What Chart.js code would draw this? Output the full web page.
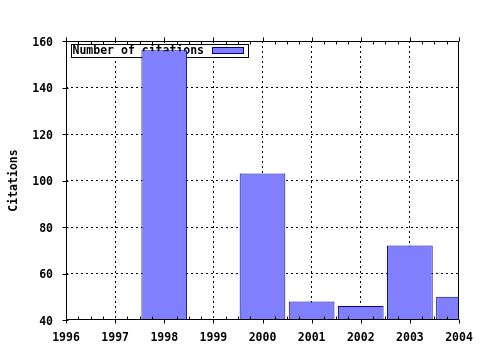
<!DOCTYPE html>
<html>
<head>
<meta charset="utf-8">
<script src="https://cdn.jsdelivr.net/npm/chart.js@4/dist/chart.umd.min.js"></script>
<style>
  html, body { margin: 0; padding: 0; background: #ffffff; }
  #wrap { width: 480px; height: 350px; }
</style>
</head>
<body>
<div id="wrap"><canvas id="c" width="480" height="350"></canvas></div>
<script>
const years = [1998, 2000, 2001, 2002, 2003, 2004];
const citations = [156, 103, 48, 46, 72, 50];
const xTickYears = [1996, 1997, 1998, 1999, 2000, 2001, 2002, 2003, 2004];
const yTickValues = [40, 60, 80, 100, 120, 140, 160];
const seriesLabel = 'Number of citations';
const yTitle = 'Citations';

const FONT = { family: '"DejaVu Sans Mono", monospace', size: 11.5, weight: 'bold' };
const FILL = '#8080ff';
const EDGE = '#000090';

const innerGrid = (ctx) => {
  const n = ctx.scale.ticks.length;
  return (ctx.index === 0 || ctx.index === n - 1) ? 'rgba(0,0,0,0)' : '#000000';
};

const legendBox = {
  id: 'legendBox',
  beforeDatasetsDraw(chart) {
    const ctx = chart.ctx;
    const a = chart.chartArea;
    ctx.save();
    const x = Math.round(a.left) + 5.5, y = Math.round(a.top) + 3.5, w = 177, h = 13;
    ctx.fillStyle = '#ffffff';
    ctx.fillRect(x, y, w, h);
    ctx.strokeStyle = '#000000';
    ctx.lineWidth = 1;
    ctx.strokeRect(x, y, w, h);
    ctx.fillStyle = '#000000';
    ctx.font = 'bold 11.5px "DejaVu Sans Mono", monospace';
    ctx.textBaseline = 'middle';
    ctx.fillText(chart.data.datasets[0].label, x + 1, y + h / 2 + 0.5);
    ctx.fillStyle = FILL;
    ctx.fillRect(x + 141, y + 3, 31, 6);
    ctx.strokeStyle = EDGE;
    ctx.strokeRect(x + 141, y + 3, 31, 6);
    ctx.restore();
  }
};

const frameTicks = {
  id: 'frameTicks',
  afterDraw(chart) {
    const ctx = chart.ctx;
    const a = chart.chartArea;
    const xs = chart.scales.x, ys = chart.scales.y;
    const L = Math.round(a.left) + 0.5, R = Math.round(a.right) - 0.5;
    const T = Math.round(a.top) + 0.5, B = Math.round(a.bottom) - 0.5;
    ctx.save();
    ctx.strokeStyle = '#000000';
    ctx.lineWidth = 1;
    ctx.beginPath();
    ctx.moveTo(L, T); ctx.lineTo(R, T); ctx.lineTo(R, B); ctx.lineTo(L, B); ctx.closePath();
    xs.ticks.forEach((t, i) => {
      const px = Math.round(xs.getPixelForValue(t.value)) + 0.5;
      ctx.moveTo(px, B); ctx.lineTo(px, B + 4);
      ctx.moveTo(px, T); ctx.lineTo(px, T - 4);
      if (i < xs.ticks.length - 1) {
        for (let q = 1; q < 4; q++) {
          const mx = Math.round(xs.getPixelForValue(t.value + q / 4)) + 0.5;
          ctx.moveTo(mx, B); ctx.lineTo(mx, B - 3);
          ctx.moveTo(mx, T); ctx.lineTo(mx, T + 3);
        }
      }
    });
    ys.ticks.forEach(t => {
      const py = Math.round(ys.getPixelForValue(t.value)) + 0.5;
      ctx.moveTo(L - 4, py); ctx.lineTo(L + 2, py);
    });
    ctx.stroke();
    ctx.restore();
  }
};

new Chart(document.getElementById('c'), {
  type: 'bar',
  data: {
    datasets: [{
      label: seriesLabel,
      data: years.map((y, i) => ({ x: y, y: citations[i] })),
      backgroundColor: FILL,
      borderColor: EDGE,
      borderWidth: 1,
      barPercentage: 0.93,
      categoryPercentage: 1.0,
      clip: 0
    }]
  },
  options: {
    responsive: false,
    animation: false,
    devicePixelRatio: 1,
    layout: { padding: { left: 0, top: 41, right: 21, bottom: 0 } },
    plugins: { legend: { display: false }, tooltip: { enabled: false } },
    scales: {
      x: {
        type: 'linear',
        offset: false,
        min: xTickYears[0],
        max: xTickYears[xTickYears.length - 1],
        afterBuildTicks: s => { s.ticks = xTickYears.map(v => ({ value: v })); },
        afterFit: s => { s.height = 30; s.paddingLeft = 0; s.paddingRight = 0; },
        grid: { offset: false, color: innerGrid, lineWidth: 1, drawTicks: false },
        border: { display: false, dash: [2, 3] },
        ticks: {
          color: '#000000',
          font: FONT,
          padding: 11,
          maxRotation: 0,
          autoSkip: false,
          callback: v => String(v)
        }
      },
      y: {
        type: 'linear',
        min: yTickValues[0],
        max: yTickValues[yTickValues.length - 1],
        afterBuildTicks: s => { s.ticks = yTickValues.map(v => ({ value: v })); },
        afterFit: s => { s.width = 66; s.paddingTop = 0; s.paddingBottom = 0; },
        grid: { color: innerGrid, lineWidth: 1, drawTicks: false },
        border: { display: false, dash: [2, 3] },
        ticks: { color: '#000000', font: FONT, padding: 13, labelOffset: 2, callback: v => String(v) },
        title: { display: true, text: yTitle, color: '#000000', font: FONT, padding: { top: 7, bottom: 0 } }
      }
    }
  },
  plugins: [legendBox, frameTicks]
});
</script>
</body>
</html>
